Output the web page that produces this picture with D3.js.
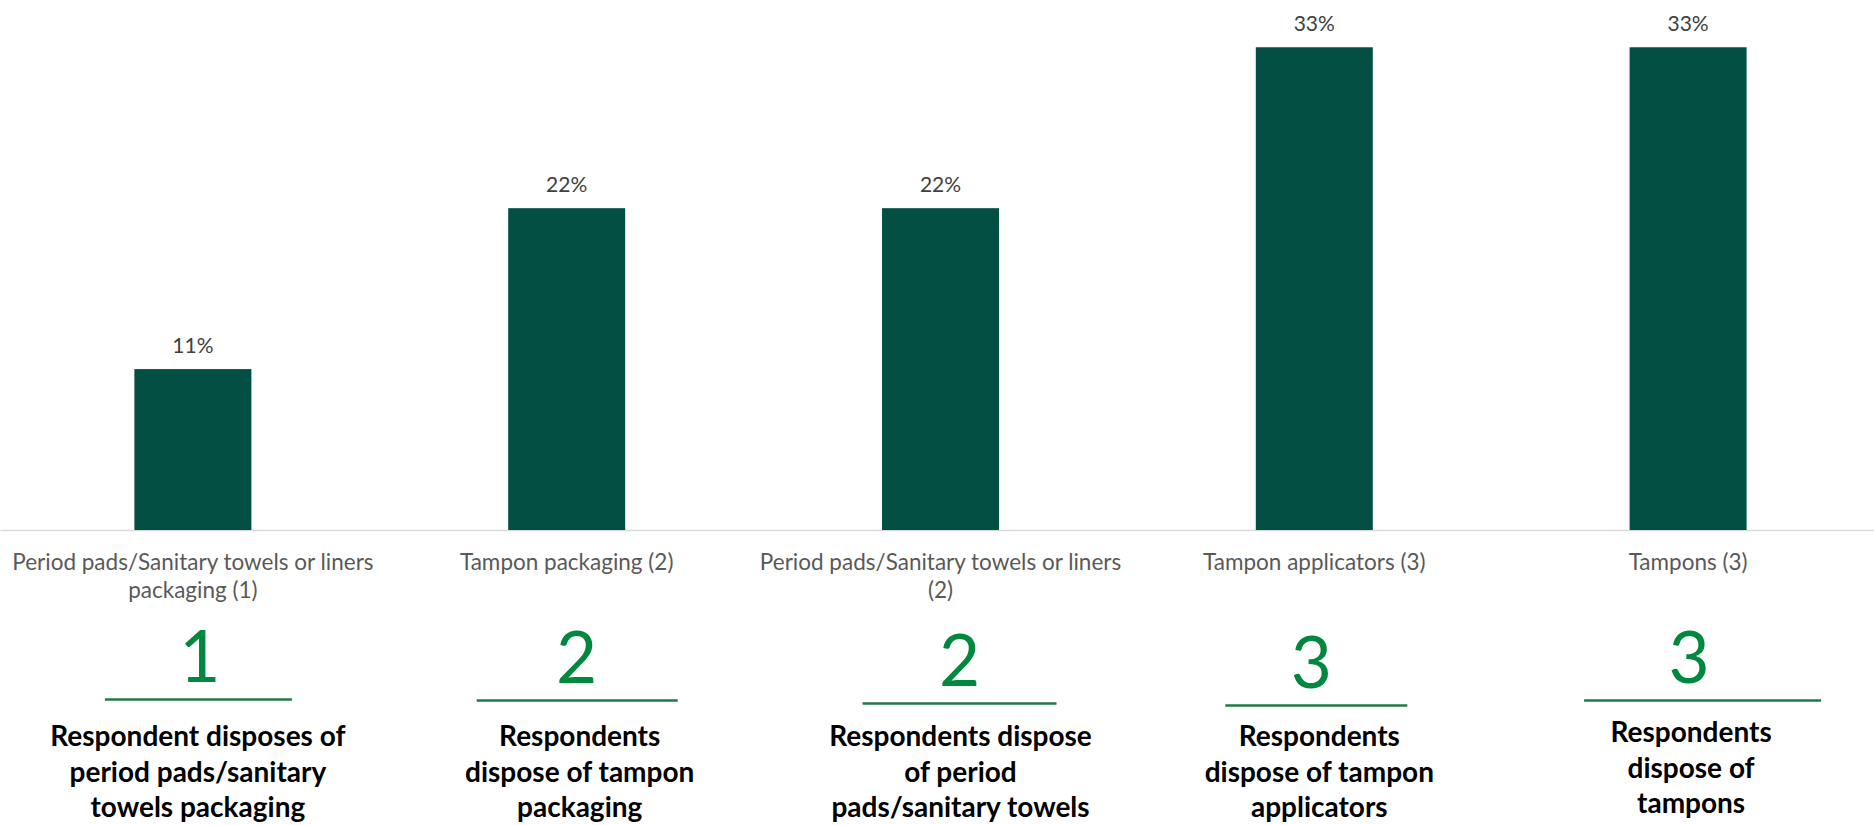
<!DOCTYPE html>
<html>
<head>
<meta charset="utf-8">
<script src="https://cdn.jsdelivr.net/npm/d3@7"></script>
<style>
  html, body { margin: 0; padding: 0; background: #ffffff; }
  svg { display: block; }
</style>
</head>
<body>
<svg id="chart" width="1874" height="825"></svg>
<script>
// Disposal items (category label lines separated by \n)
const categories = [
  "Period pads/Sanitary towels or liners\npackaging (1)",
  "Tampon packaging (2)",
  "Period pads/Sanitary towels or liners\n(2)",
  "Tampon applicators (3)",
  "Tampons (3)"
];
// Share of respondents, percent
const shares = [11, 22, 22, 33, 33];
// Number of respondents behind each share
const respondentCounts = [1, 2, 2, 3, 3];
// Caption under each respondent count
const captions = [
  "Respondent disposes of\nperiod pads/sanitary\ntowels packaging",
  "Respondents\ndispose of tampon\npackaging",
  "Respondents dispose\nof period\npads/sanitary towels",
  "Respondents\ndispose of tampon\napplicators",
  "Respondents\ndispose of\ntampons"
];

// Layout of the hand-placed annotation panels under the axis
const countDx = [7, 10, 19, -3, 1];
const countBaseline = [682, 683, 686, 688, 683];
const ruleSpan = [[-95, 92], [-100, 101], [-97, 97], [-86, 96], [-105, 132]];
const captionDx = [5, 13, 20, 5, 3];
const captionBaseline = [746, 746, 746, 746, 742];
const captionLeading = 35.5;

const FONT = "Lato, 'Open Sans', sans-serif";
const BAR = "#034f43";

const svg = d3.select("#chart");

const x = d3.scaleBand()
  .domain(categories)
  .range([6, 1875])
  .paddingInner(0.687)
  .paddingOuter(0.3435);

const y = d3.scaleLinear()
  .domain([0, 35])
  .range([530, 18]);

// Baseline axis
const axis = d3.axisBottom(x).tickSize(0).tickFormat("");
const axisG = svg.append("g")
  .attr("transform", `translate(0,${y(0) + 0.5})`)
  .call(axis);
axisG.select(".domain")
  .attr("stroke", "#d9d9d9")
  .attr("stroke-width", 1.5)
  .attr("d", "M0.5,0H1874");

// Bars
svg.append("g").selectAll("rect")
  .data(shares)
  .join("rect")
  .attr("x", (d, i) => x(categories[i]))
  .attr("width", x.bandwidth())
  .attr("y", d => y(d))
  .attr("height", d => y(0) - y(d))
  .attr("fill", BAR);

// Value labels
svg.append("g").selectAll("text")
  .data(shares)
  .join("text")
  .attr("x", (d, i) => x(categories[i]) + x.bandwidth() / 2)
  .attr("y", d => y(d) - 16.5)
  .attr("text-anchor", "middle")
  .attr("font-family", FONT)
  .attr("font-size", 21)
  .attr("fill", "#404040")
  .text(d => d + "%");

// Category labels
const catG = svg.append("g");
categories.forEach((c, i) => {
  const t = catG.append("text")
    .attr("text-anchor", "middle")
    .attr("font-family", FONT)
    .attr("font-size", 22.5)
    .attr("fill", "#595959");
  c.split("\n").forEach((line, k) => {
    t.append("tspan")
      .attr("x", x(c) + x.bandwidth() / 2)
      .attr("y", 569.5 + k * 28)
      .text(line);
  });
});

// Respondent counts, rules and captions
const notes = svg.append("g");
respondentCounts.forEach((n, i) => {
  const cx = x(categories[i]) + x.bandwidth() / 2;
  const nx = cx + countDx[i];
  notes.append("text")
    .attr("x", nx)
    .attr("y", countBaseline[i])
    .attr("text-anchor", "middle")
    .attr("font-family", FONT)
    .attr("font-size", 71)
    .attr("fill", "#00883f")
    .text(n);
  const ry = countBaseline[i] + 17.5;
  notes.append("line")
    .attr("x1", nx + ruleSpan[i][0])
    .attr("x2", nx + ruleSpan[i][1])
    .attr("y1", ry)
    .attr("y2", ry)
    .attr("stroke", "#1e7a46")
    .attr("stroke-width", 2.5);
  const t = notes.append("text")
    .attr("text-anchor", "middle")
    .attr("font-family", FONT)
    .attr("font-weight", 700)
    .attr("font-size", 28)
    .attr("fill", "#000000");
  captions[i].split("\n").forEach((line, k) => {
    t.append("tspan")
      .attr("x", cx + captionDx[i])
      .attr("y", captionBaseline[i] + k * captionLeading)
      .text(line);
  });
});
</script>
</body>
</html>
